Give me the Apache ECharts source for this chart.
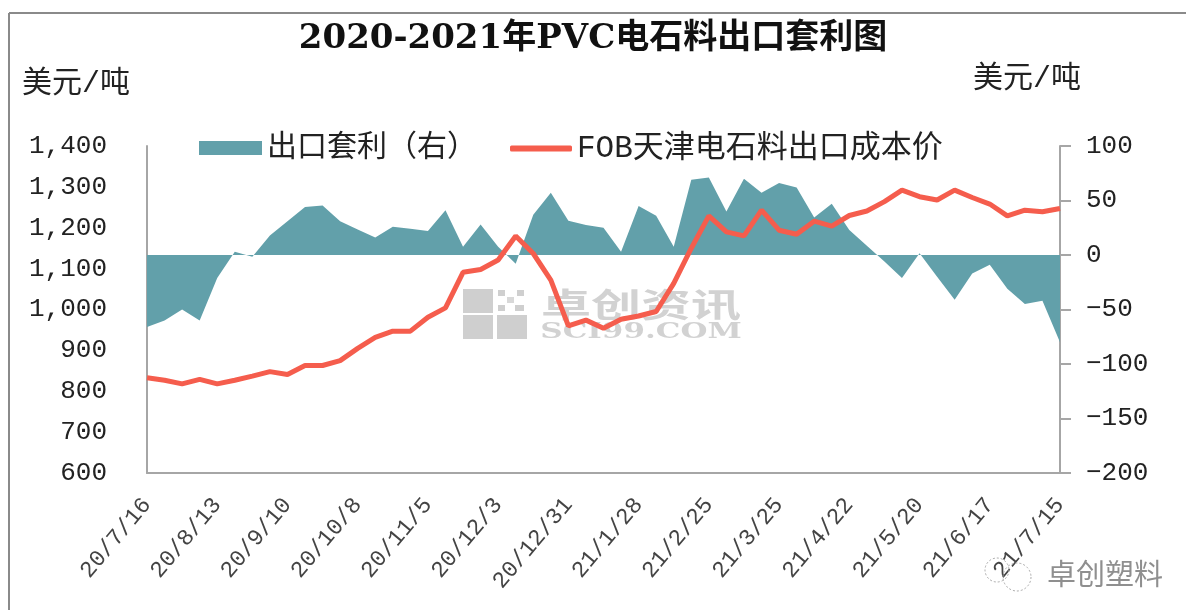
<!DOCTYPE html>
<html>

<head>
    <meta charset="utf-8">
    <title>ECharts</title>
    <script src="https://cdn.jsdelivr.net/npm/echarts@6/dist/echarts.min.js"></script>
    <style>
        html, body { margin: 0; padding: 0; background: #fff; }
    </style>
</head>

<body>
    <div id="main" style="width:1186px;height:610px;"></div>
    <script type="text/javascript">
        var dates = [
            '20/7/16', '20/7/23', '20/7/30', '20/8/6', '20/8/13', '20/8/20', '20/8/27', '20/9/3', '20/9/10',
            '20/9/17', '20/9/24', '20/10/1', '20/10/8', '20/10/15', '20/10/22', '20/10/29', '20/11/5', '20/11/12',
            '20/11/19', '20/11/26', '20/12/3', '20/12/10', '20/12/17', '20/12/24', '20/12/31', '21/1/7', '21/1/14',
            '21/1/21', '21/1/28', '21/2/4', '21/2/11', '21/2/18', '21/2/25', '21/3/4', '21/3/11', '21/3/18',
            '21/3/25', '21/4/1', '21/4/8', '21/4/15', '21/4/22', '21/4/29', '21/5/6', '21/5/13', '21/5/20',
            '21/5/27', '21/6/3', '21/6/10', '21/6/17', '21/6/24', '21/7/1', '21/7/8', '21/7/15'
        ];
        // 出口套利（右）
        var arbitrage = [
            -66, -60, -50, -60, -21, 3, -1.5, 18, 31, 44, 45.5, 31, 23.5, 16, 26, 24, 22, 41, 7.5,
            28, 7.5, -8, 37, 57, 31.5, 27.5, 25, 3, 45, 36, 7.5, 69, 71, 40, 70, 57,
            66, 62, 34.5, 47, 23, 8.5, -6, -21, 1.5, -20, -41, -17, -9, -31, -45, -42, -80
        ];
        // FOB天津电石料出口成本价
        var fobCost = [
            833, 827, 818, 829, 818, 827, 837, 848, 841, 863, 863, 875, 905, 932, 947, 947, 981, 1004, 1091,
            1098, 1121, 1180, 1137, 1072, 960, 974, 954, 976, 984, 995, 1064, 1150, 1229, 1190, 1180, 1243,
            1194, 1184, 1216, 1204, 1230, 1241, 1264, 1292, 1276, 1268, 1292, 1274, 1258, 1229, 1243, 1239, 1247
        ];

        var latin = '"Liberation Mono","Noto Sans CJK SC",monospace';
        var axisColor = '#a6a6a6';

        var myChart = echarts.init(document.getElementById('main'));

        var option = {
            animation: false,
            backgroundColor: '#fff',
            title: [
                {
                    text: '2020-2021年PVC电石料出口套利图',
                    left: 588,
                    top: 17,
                    textAlign: 'center',
                    textStyle: { fontFamily: '"DejaVu Serif","Noto Sans CJK SC",serif', fontSize: 34, fontWeight: 'bold', color: '#111' }
                },
                {
                    text: '美元/吨',
                    left: 17,
                    top: 64,
                    textStyle: { fontFamily: latin, fontSize: 30, fontWeight: 'normal', color: '#222' }
                },
                {
                    text: '美元/吨',
                    left: 968,
                    top: 59,
                    textStyle: { fontFamily: latin, fontSize: 30, fontWeight: 'normal', color: '#222' }
                }
            ],
            legend: [
                {
                    left: 194,
                    top: 128,
                    itemWidth: 63,
                    itemHeight: 14,
                    icon: 'rect',
                    textStyle: { fontFamily: latin, fontSize: 30, color: '#222' },
                    data: ['出口套利（右）']
                },
                {
                    left: 505,
                    top: 128,
                    itemWidth: 62,
                    itemHeight: 6,
                    icon: 'roundRect',
                    textStyle: { fontFamily: latin, fontSize: 31, color: '#222' },
                    data: ['FOB天津电石料出口成本价']
                }
            ],
            grid: { left: 147, right: 126, top: 146, bottom: 137 },
            xAxis: {
                type: 'category',
                data: dates,
                boundaryGap: false,
                axisLine: { onZero: false, lineStyle: { color: axisColor, width: 2 } },
                axisTick: { show: false },
                axisLabel: {
                    interval: 3,
                    rotate: 50,
                    margin: 28,
                    fontFamily: latin,
                    fontSize: 23,
                    color: '#444'
                }
            },
            yAxis: [
                {
                    type: 'value',
                    min: 600,
                    max: 1400,
                    interval: 100,
                    splitLine: { show: false },
                    axisLine: { show: true, lineStyle: { color: axisColor, width: 2 } },
                    axisTick: { show: false },
                    axisLabel: {
                        margin: 40,
                        fontFamily: latin,
                        fontSize: 26,
                        color: '#222',
                        formatter: function (v) {
                            return v >= 1000 ? Math.floor(v / 1000) + ',' + String(v % 1000).padStart(3, '0') : String(v);
                        }
                    }
                },
                {
                    type: 'value',
                    min: -200,
                    max: 100,
                    interval: 50,
                    position: 'right',
                    splitLine: { show: false },
                    axisLine: { show: true, lineStyle: { color: axisColor, width: 2 } },
                    axisTick: { show: true, length: 11, lineStyle: { color: axisColor, width: 2 } },
                    axisLabel: {
                        margin: 26,
                        fontFamily: latin,
                        fontSize: 26,
                        color: '#222',
                        formatter: function (v) {
                            return String(v).replace('-', '\u2212');
                        }
                    }
                }
            ],
            series: [
                {
                    name: '出口套利（右）',
                    type: 'line',
                    yAxisIndex: 1,
                    data: arbitrage,
                    symbol: 'none',
                    itemStyle: { color: '#62a0aa' },
                    lineStyle: { width: 0 },
                    areaStyle: { color: '#62a0aa', opacity: 1 },
                    z: 2
                },
                {
                    name: 'FOB天津电石料出口成本价',
                    type: 'line',
                    yAxisIndex: 0,
                    data: fobCost,
                    symbol: 'none',
                    itemStyle: { color: '#f55d4d' },
                    lineStyle: { color: '#f55d4d', width: 5 },
                    z: 3
                }
            ],
            graphic: [
                // 外框
                { type: 'line', shape: { x1: 9, y1: 13, x2: 1186, y2: 13 }, style: { stroke: '#8a8a8a', lineWidth: 2 } },
                { type: 'line', shape: { x1: 9, y1: 13, x2: 9, y2: 610 }, style: { stroke: '#8a8a8a', lineWidth: 2 } },
                // 水印
                { type: 'rect', z: 1, shape: { x: 463, y: 289, width: 30, height: 24 }, style: { fill: '#cfcfcf' } },
                { type: 'rect', z: 1, shape: { x: 463, y: 315, width: 30, height: 24 }, style: { fill: '#cfcfcf' } },
                { type: 'rect', z: 1, shape: { x: 497, y: 315, width: 30, height: 24 }, style: { fill: '#cfcfcf' } },
                { type: 'rect', z: 1, shape: { x: 498, y: 290, width: 7, height: 6 }, style: { fill: '#cfcfcf' } },
                { type: 'rect', z: 1, shape: { x: 517, y: 290, width: 7, height: 6 }, style: { fill: '#cfcfcf' } },
                { type: 'rect', z: 1, shape: { x: 507, y: 297, width: 7, height: 6 }, style: { fill: '#d8d8d8' } },
                { type: 'rect', z: 1, shape: { x: 498, y: 305, width: 7, height: 6 }, style: { fill: '#cfcfcf' } },
                { type: 'rect', z: 1, shape: { x: 515, y: 305, width: 9, height: 6 }, style: { fill: '#cfcfcf' } },
                { type: 'text', z: 1, originX: 641, originY: 305, scaleY: 0.65, style: { x: 641, y: 305, text: '卓创资讯', align: 'center', verticalAlign: 'middle', font: 'bold 50px "Noto Sans CJK SC"', fill: '#d2d2d2' } },
                { type: 'text', z: 1, originX: 641, originY: 332, scaleY: 0.7, style: { x: 641, y: 332, text: 'SCI99.COM', align: 'center', verticalAlign: 'middle', font: 'bold 31px "DejaVu Serif"', fill: '#d2d2d2' } },
                // 公众号标记
                { type: 'circle', z: 1, shape: { cx: 997, cy: 570, r: 12 }, style: { fill: 'none', stroke: '#aaa', lineWidth: 1, lineDash: [2, 2] } },
                { type: 'circle', z: 1, shape: { cx: 1017, cy: 577, r: 14 }, style: { fill: 'none', stroke: '#aaa', lineWidth: 1, lineDash: [2, 2] } },
                { type: 'text', z: 1, style: { x: 1105, y: 574, text: '卓创塑料', align: 'center', verticalAlign: 'middle', font: '29px "Noto Sans CJK SC"', fill: '#8f8f8f' } }
            ]
        };
        myChart.setOption(option);
    </script>
</body>

</html>
